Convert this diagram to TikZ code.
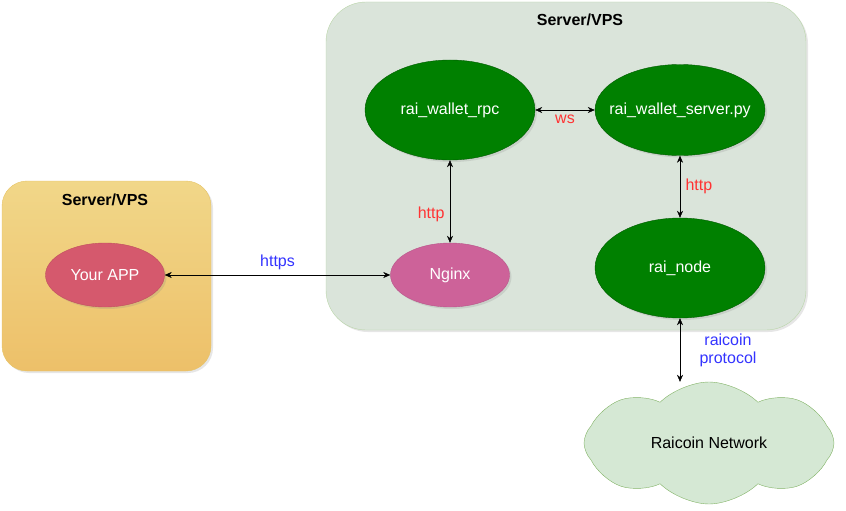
\documentclass[tikz,border=0pt]{standalone}
\usepackage{fontspec}
\setmainfont{Liberation Sans}
\usetikzlibrary{shapes.geometric,shapes.symbols,arrows.meta,shadows}

\definecolor{boxgreen}{HTML}{DAE4DA}
\definecolor{boxgreenline}{HTML}{B9D5A8}
\definecolor{boxtop}{HTML}{F1D789}
\definecolor{boxbottom}{HTML}{EDC069}
\definecolor{boxline}{HTML}{E6C365}
\definecolor{appred}{HTML}{D5596D}
\definecolor{appline}{HTML}{C04F5F}
\definecolor{nginxpink}{HTML}{CD6299}
\definecolor{nginxline}{HTML}{B8568A}
\definecolor{procgreen}{HTML}{008000}
\definecolor{procline}{HTML}{005A00}
\definecolor{cloudfill}{HTML}{D5E8D4}
\definecolor{cloudline}{HTML}{82B366}
\definecolor{labelblue}{HTML}{3333FF}
\definecolor{labelred}{HTML}{FF3333}

\begin{document}
\begin{tikzpicture}[x=1pt, y=-1pt, font=\fontsize{16}{18}\selectfont,
    >={Stealth[length=7pt,width=6pt]},
    shade/.style={drop shadow={shadow xshift=2pt, shadow yshift=-2pt, opacity=0.2}},
    proc/.style={ellipse, draw=procline, fill=procgreen, text=white,
        minimum width=170pt, minimum height=100pt, inner sep=0pt, shade},
    small/.style={ellipse, minimum width=119pt, minimum height=64pt,
        inner sep=0pt, text=white, shade}]

    \useasboundingbox (0,0) rectangle (846,511);

    % 左のサーバー
    \draw[boxline, top color=boxtop, bottom color=boxbottom, rounded corners=25pt, shade]
    (2,181) rectangle (211,371);
    \node[font=\fontsize{16}{18}\selectfont\bfseries] (lefttitle) at (105,200) {Server/VPS};

    % 右のサーバー
    \draw[boxgreenline, fill=boxgreen, rounded corners=40pt, shade]
    (326,2) rectangle (806,330);
    \node[font=\fontsize{16}{18}\selectfont\bfseries] (righttitle) at (580,20) {Server/VPS};

    % ノードの描画
    \node[small, draw=appline, fill=appred] (app) at (105,275) {Your APP};
    \node[small, draw=nginxline, fill=nginxpink] (nginx) at (450,275) {Nginx};
    \node[proc] (rpc) at (450,110) {rai\_wallet\_rpc};
    \node[proc, minimum height=91pt, inner xsep=-15pt] (walletsrv) at (680,110)
    {rai\_wallet\_server.py};
    \node[proc] (node) at (680,268) {rai\_node};
    \node[cloud, cloud puffs=8, cloud puff arc=90, aspect=2.2, draw=cloudline,
        fill=cloudfill, minimum width=250pt, minimum height=122pt, inner sep=0pt]
    (net) at (709,443) {Raicoin Network};

    % 矢印の描画
    \draw[<->] (app) -- (nginx)
    node[midway, above=2pt, text=labelblue] {https};
    \draw[<->] (rpc) -- (walletsrv)
    node[midway, below=1pt, text=labelred] {ws};
    \draw[<->] (rpc) -- (nginx)
    node[pos=0.65, left=2pt, text=labelred] {http};
    \draw[<->] (walletsrv) -- (node)
    node[midway, right=2pt, text=labelred] {http};
    \draw[<->] (node.south) -- (node.south |- net.north)
    node[midway, right=16pt, text=labelblue, align=center] {raicoin\\protocol};

\end{tikzpicture}
\end{document}
